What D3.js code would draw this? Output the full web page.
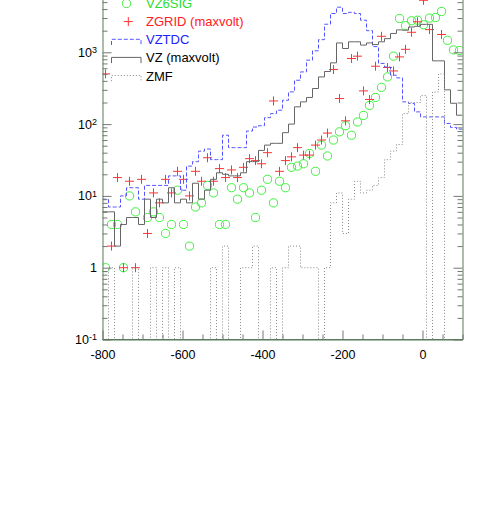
<!DOCTYPE html>
<html>
<head>
<meta charset="utf-8">
<script src="https://cdn.jsdelivr.net/npm/d3@7"></script>
<style>
  body { margin: 0; background: #fff; }
  svg text { font-family: "Liberation Sans", Arial, sans-serif; }
</style>
</head>
<body>
<div id="chart"></div>
<script>
// Histogram binning: 60 bins of 15 from -800 to 100
const xMin = -800, xMax = 100, nBins = 60;
const binWidth = (xMax - xMin) / nBins;

// Bin contents, 0 = empty bin
const vz6sig = [
  1, 4, 4, 1, 10, 6, 0, 5, 6, 5,
  3, 4, 12, 4, 2, 7, 8, 14, 11, 4,
  4, 13, 9, 13, 11, 5, 12, 17, 8, 16,
  13, 25, 26, 28, 39, 22, 51, 36, 60, 78,
  95, 70, 107, 132, 182, 235, 325, 454, 883, 2960,
  2350, 2750, 2800, 2420, 3000, 3050, 3700, 1470, 1080, 1060
];
const zgrid = [
  500, 2, 18, 1, 16, 1, 17, 3, 11, 8,
  17, 11, 22, 17, 10, 22, 16, 34, 16, 24,
  18, 23, 18, 25, 33, 31, 28, 40, 210, 22,
  31, 35, 47, 37, 37, 51, 60, 75, 575, 227,
  111, 820, 883, 290, 220, 640, 1670, 614, 550, 863,
  1100, 1900, 2660, 5300, 2070, 0, 1770, 0, 0, 0
];
const vztdc = [
  9, 7, 7, 10, 13, 13, 9, 14, 14, 14,
  14, 19, 19, 12, 26, 30, 42, 45, 32, 32,
  70, 47, 47, 47, 80, 91, 95, 123, 140, 156,
  215, 281, 408, 533, 777, 1050, 1500, 2460, 3470, 4250,
  3470, 3600, 3470, 2800, 2000, 1200, 700, 625, 480, 440,
  204, 194, 148, 126, 126, 126, 126, 102, 90, 85
];
const vz = [
  6, 6, 2, 4, 5, 5, 4, 9, 5, 9,
  8, 13, 8, 9, 8, 15, 9, 12, 17, 21,
  20, 19, 19, 21, 30, 30, 43, 51, 54, 54,
  76, 100, 174, 204, 235, 313, 454, 540, 713, 1350,
  1130, 1400, 1400, 1260, 1350, 1280, 1400, 1550, 1830, 2050,
  2030, 2250, 2300, 2450, 2450, 760, 760, 300, 195, 133
];
const zmf = [
  0, 1, 0, 0, 0, 1, 0, 0, 1, 0,
  1, 0, 1, 0, 0, 0, 0, 0, 1, 0,
  2, 0, 0, 1, 1, 2, 0, 0, 1, 0,
  1, 2, 2, 1, 1, 1, 0, 1, 8, 11,
  3, 9, 16, 11, 12, 14, 18, 32, 42, 52,
  140, 200, 200, 250, 0, 280, 500, 0, 0, 0
];

// Axis ticks and labels
const xTicks = [-800, -600, -400, -200, 0];
const xMinorStep = 50;
const yDecades = [0.1, 1, 10, 100, 1000];
const yTickLabels = ['10^-1', '1', '10^1', '10^2', '10^3'];

// Legend
const legendNames = ['VZ6SIG', 'ZGRID (maxvolt)', 'VZTDC', 'VZ (maxvolt)', 'ZMF'];
const legendColors = ['#2ddd2d', '#ff2020', '#2020ff', '#000', '#000'];

const width = 491, height = 515;
const frame = {left: 102.5, right: 462.5, top: -19.5, bottom: 339.5};
const axisColor = '#5b7b5b';
const tickColor = '#777';

const svg = d3.select('#chart')
    .append('svg')
    .attr('width', width)
    .attr('height', height);

const x = d3.scaleLinear().domain([xMin, xMax]).range([frame.left, frame.right]);
const y = d3.scaleLog().domain([0.1, 1e4]).range([frame.bottom, frame.top]);

// Clip data to the frame
svg.append('defs').append('clipPath').attr('id', 'frame-clip')
    .append('rect')
    .attr('x', frame.left).attr('y', frame.top)
    .attr('width', frame.right - frame.left)
    .attr('height', frame.bottom - frame.top);

const plot = svg.append('g').attr('clip-path', 'url(#frame-clip)');

const edges = d3.range(nBins + 1).map(i => xMin + i * binWidth);
const centers = d3.range(nBins).map(i => xMin + (i + 0.5) * binWidth);

// Step outline, empty bins drop below the frame
const stepLine = d3.line()
    .x(d => x(d[0]))
    .y(d => y(Math.max(d[1], 0.01)))
    .curve(d3.curveStepAfter);

function stepPoints(values) {
    const pts = values.map((v, i) => [edges[i], v]);
    pts.push([edges[nBins], values[nBins - 1]]);
    return pts;
}

const markerR = 4.1, crossHalf = 4.5;

// VZ6SIG circles
plot.append('g').selectAll('circle')
    .data(vz6sig.map((v, i) => [centers[i], v]).filter(d => d[1] > 0))
    .enter()
    .append('circle')
    .attr('cx', d => x(d[0]))
    .attr('cy', d => y(d[1]))
    .attr('r', markerR)
    .attr('fill', 'none')
    .attr('stroke', '#44ee44');

// ZGRID crosses
plot.append('g').selectAll('path')
    .data(zgrid.map((v, i) => [centers[i], v]).filter(d => d[1] > 0))
    .enter()
    .append('path')
    .attr('d', d => `M${x(d[0]) - crossHalf},${y(d[1])}h${2 * crossHalf}M${x(d[0])},${y(d[1]) - crossHalf}v${2 * crossHalf}`)
    .attr('stroke', '#ff3333')
    .attr('fill', 'none');

// VZTDC dashed
plot.append('path')
    .attr('d', stepLine(stepPoints(vztdc)))
    .attr('fill', 'none')
    .attr('stroke', '#5555ff')
    .attr('stroke-dasharray', '4,2');

// VZ solid
plot.append('path')
    .attr('d', stepLine(stepPoints(vz)))
    .attr('fill', 'none')
    .attr('stroke', '#666');

// ZMF dotted
plot.append('path')
    .attr('d', stepLine(stepPoints(zmf)))
    .attr('fill', 'none')
    .attr('stroke', '#888')
    .attr('stroke-dasharray', '1,2');

// Axes
function styleAxis(g) {
    g.select('.domain').attr('stroke', axisColor);
    g.selectAll('.tick line').attr('stroke', tickColor);
    g.selectAll('.tick text').attr('fill', '#000').attr('font-size', 12.5);
}

const xMinor = d3.range(xMin, xMax + 1, xMinorStep).filter(v => !xTicks.includes(v));

svg.append('g')
    .attr('transform', `translate(0,${frame.bottom})`)
    .call(d3.axisBottom(x).tickValues(xMinor).tickSizeInner(-5).tickSizeOuter(0).tickFormat(''))
    .call(g => g.select('.domain').remove())
    .call(styleAxis);

svg.append('g')
    .attr('transform', `translate(0,${frame.bottom})`)
    .call(d3.axisBottom(x).tickValues(xTicks).tickSizeInner(-9).tickSizeOuter(0)
        .tickFormat(d => String(d)))
    .call(styleAxis)
    .call(g => g.selectAll('.tick text').attr('y', 19.3).attr('dy', null));

const yMinor = [];
yDecades.forEach(dec => d3.range(2, 10).forEach(m => yMinor.push(dec * m)));

[['left', frame.left], ['right', frame.right]].forEach(([side, pos]) => {
    const axisFn = side === 'left' ? d3.axisLeft : d3.axisRight;
    svg.append('g')
        .attr('transform', `translate(${pos},0)`)
        .call(axisFn(y).tickValues(yMinor).tickSizeInner(-5).tickSizeOuter(0).tickFormat(''))
        .call(g => g.select('.domain').remove())
        .call(styleAxis);
    svg.append('g')
        .attr('transform', `translate(${pos},0)`)
        .call(axisFn(y).tickValues(yDecades.concat([1e4])).tickSizeInner(-9).tickSizeOuter(0)
            .tickFormat(side === 'left' ? (d, i) => yTickLabels[i] || '' : ''))
        .call(styleAxis)
        .call(g => g.selectAll('.tick text').each(function() {
            const t = d3.select(this);
            const parts = t.text().split('^');
            t.text(null).attr('x', -5.5);
            t.append('tspan').text(parts[0]);
            if (parts[1]) {
                t.append('tspan').attr('dy', '-0.42em').attr('font-size', 9).text(parts[1]);
            }
        }));
});

// Bottom axis line drawn on top
svg.append('line')
    .attr('x1', frame.left).attr('x2', frame.right)
    .attr('y1', frame.bottom).attr('y2', frame.bottom)
    .attr('stroke', axisColor);

// Legend
const legendX = 111.5, legendW = 29.5, textX = 146;
const rowY = [3.5, 21.6, 39.7, 57.8, 75.9];
const legend = svg.append('g');

legend.append('circle')
    .attr('cx', 126.5).attr('cy', rowY[0])
    .attr('r', markerR).attr('fill', 'none').attr('stroke', '#44ee44');
legend.append('path')
    .attr('d', `M${128.3 - crossHalf},${rowY[1]}h${2 * crossHalf}M${128.3},${rowY[1] - crossHalf}v${2 * crossHalf}`)
    .attr('stroke', '#ff3333');

const boxStyles = [
    null, null,
    {stroke: '#5555ff', dash: '4,2'},
    {stroke: '#666', dash: null},
    {stroke: '#888', dash: '1,2'}
];
boxStyles.forEach((s, i) => {
    if (!s) return;
    const top = rowY[i] - 0.4, bot = rowY[i] + 5.3;
    legend.append('path')
        .attr('d', `M${legendX},${bot}V${top}H${legendX + legendW}V${bot}`)
        .attr('fill', 'none')
        .attr('stroke', s.stroke)
        .attr('stroke-dasharray', s.dash);
});

legend.selectAll('text')
    .data(legendNames)
    .enter()
    .append('text')
    .attr('x', textX)
    .attr('y', (d, i) => rowY[i])
    .attr('dy', '0.36em')
    .attr('font-size', 13)
    .attr('fill', (d, i) => legendColors[i])
    .text(d => d);
</script>
</body>
</html>
